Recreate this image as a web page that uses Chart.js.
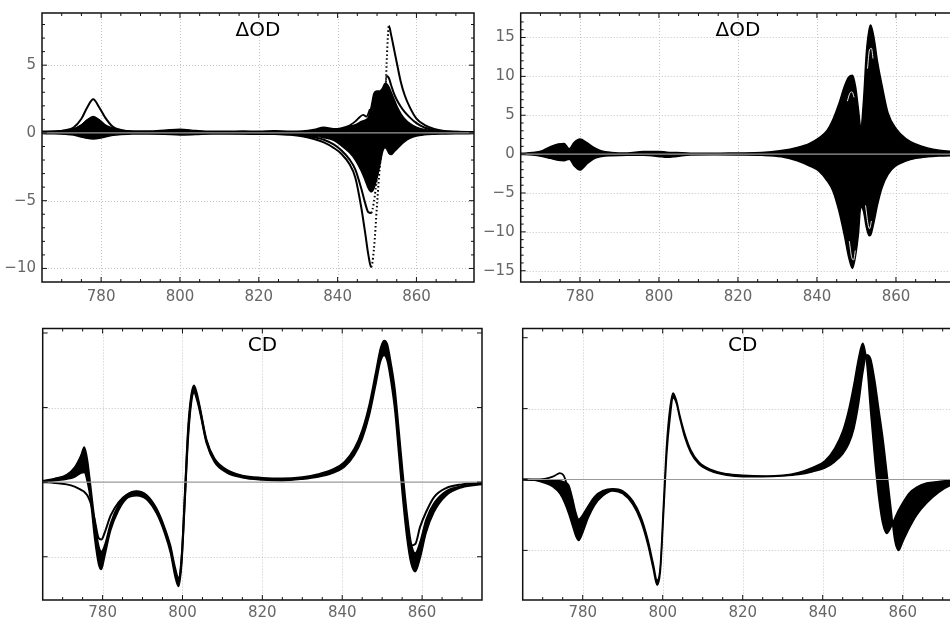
<!DOCTYPE html>
<html>
<head>
<meta charset="utf-8">
<title>ΔOD / CD</title>
<script src="https://cdn.jsdelivr.net/npm/chart.js@4.4.1/dist/chart.umd.min.js"></script>
<style>
  html, body { margin: 0; padding: 0; background: #fff; width: 950px; height: 619px; overflow: hidden; position: relative; }
  canvas { position: absolute; }
</style>
</head>
<body>
<canvas id="odLeft" width="480" height="305" style="left:0;top:0"></canvas>
<canvas id="odRight" width="490" height="305" style="left:480px;top:0"></canvas>
<canvas id="cdLeft" width="490" height="314" style="left:0;top:305px"></canvas>
<canvas id="cdRight" width="490" height="314" style="left:490px;top:305px"></canvas>
<script>
// wavelength ticks (nm), shared by all four panels
const xTicks = [780, 800, 820, 840, 860];

// ---- ΔOD, left panel ----
const odL_yTicks = [-10, -5, 0, 5];
const odL_x = [765, 768, 771, 773, 775, 776.5, 778, 779.5, 781, 783, 785, 788, 792, 796, 800, 804, 808, 812, 816, 820,
  824, 828, 831, 834, 836.5, 839, 841, 843, 844.5, 846, 847, 847.8, 848.5, 849.2, 850, 850.7, 851.4, 852, 852.5, 853,
  853.6, 854.3, 855, 856, 857, 858.3, 860, 862, 864.5, 867, 870, 874.6];
// envelope of the bundle of traces
const odL_top = [0.12, 0.14, 0.2, 0.3, 0.6, 0.95, 1.15, 0.95, 0.6, 0.35, 0.2, 0.14, 0.14, 0.2, 0.28, 0.18, 0.12, 0.12, 0.14, 0.12,
  0.16, 0.12, 0.14, 0.25, 0.42, 0.3, 0.3, 0.5, 0.6, 0.85, 0.95, 1.15, 1.9, 2.9, 3.1, 3.1, 3.3, 3.65, 3.6, 3.4,
  3.0, 2.5, 2.0, 1.45, 1.05, 0.7, 0.42, 0.25, 0.15, 0.12, 0.1, 0.08];
const odL_bottom = [-0.05, -0.06, -0.1, -0.15, -0.3, -0.4, -0.44, -0.4, -0.3, -0.18, -0.12, -0.08, -0.08, -0.1, -0.15, -0.12, -0.08, -0.08, -0.08, -0.1,
  -0.1, -0.1, -0.15, -0.25, -0.35, -0.55, -0.95, -1.45, -2.0, -2.8, -3.5, -4.1, -4.35, -4.1, -3.3, -2.4, -1.4, -1.1, -1.2, -1.5,
  -1.6, -1.4, -1.2, -0.9, -0.65, -0.4, -0.22, -0.14, -0.1, -0.08, -0.06, -0.05];
// the two traces that stand out of the bundle
const odL_outer = [0.05, 0.07, 0.2, 0.4, 1.05, 1.9, 2.48, 1.9, 1.15, 0.45, 0.22, 0.08, 0.04, 0.03, 0.02, 0.01, 0, -0.01, -0.02, -0.04,
  -0.07, -0.14, -0.25, -0.45, -0.7, -1.1, -1.55, -2.3, -3.3, -5.5, -7.4, -9.0, -9.9, -8.6, -5.3, -2.5, -0.7, 1.7, 5.6, 7.9,
  7.2, 6.2, 5.2, 3.8, 2.8, 1.9, 1.05, 0.6, 0.3, 0.15, 0.08, 0.04];
const odL_second = [0.04, 0.06, 0.12, 0.25, 0.55, 0.95, 1.2, 0.95, 0.55, 0.25, 0.12, 0.05, 0.03, 0.02, 0.02, 0.01, 0, -0.01, -0.02, -0.03,
  -0.05, -0.1, -0.18, -0.32, -0.5, -0.85, -1.3, -1.95, -2.7, -4.1, -5.2, -5.85, -5.9, -5.1, -3.3, -1.5, 0.3, 3.0, 4.2, 4.05,
  3.5, 2.9, 2.45, 1.95, 1.55, 1.15, 0.72, 0.4, 0.2, 0.1, 0.05, 0.03];
const odL_bumpX = [839, 841, 843, 844.5, 845.7, 846.5, 847.3, 848.2];
const odL_bumpY = [0.25, 0.35, 0.55, 0.85, 1.2, 1.33, 1.2, 1.75];

// ---- ΔOD, right panel ----
const odR_yTicks = [-15, -10, -5, 0, 5, 10, 15];
const odR_x = [765, 768, 770.5, 772.5, 774.5, 776, 777.3, 778.5, 780, 781.7, 783.5, 785.5, 788, 792, 796, 800, 802, 804.5, 808, 814,
  820, 826, 831, 835, 838, 840.5, 842.5, 844, 845.5, 847, 848, 849, 849.8, 850.5, 851.1, 851.8, 852.5, 853.2, 853.6, 854.5,
  855.3, 856.5, 858, 860, 862.5, 865, 868, 871, 875];
const odR_top = [0.1, 0.2, 0.45, 0.95, 1.3, 1.35, 0.7, 1.5, 1.95, 1.5, 0.85, 0.4, 0.22, 0.15, 0.35, 0.35, 0.25, 0.2, 0.12, 0.1,
  0.15, 0.2, 0.45, 0.85, 1.35, 2.1, 3.0, 4.4, 6.4, 8.8, 9.9, 10.15, 8.6, 5.8, 3.4, 7.0, 13.0, 16.0, 16.6, 14.8,
  12.0, 8.8, 5.3, 3.3, 2.0, 1.3, 0.8, 0.5, 0.3];
const odR_bottom = [-0.05, -0.1, -0.3, -0.55, -0.8, -0.85, -0.65, -1.5, -2.05, -1.3, -0.6, -0.3, -0.2, -0.15, -0.15, -0.3, -0.42, -0.3, -0.1, -0.08,
  -0.1, -0.15, -0.35, -0.85, -1.5, -2.2, -3.4, -4.7, -7.2, -10.6, -13.2, -14.7, -13.0, -10.3, -6.8, -7.4, -9.4, -10.5, -10.4, -8.6,
  -6.6, -4.3, -2.6, -1.5, -0.9, -0.55, -0.35, -0.25, -0.18];
// thin white gaps left between traces inside the lobes
const odR_gap1X = [847.7, 848.3, 848.9, 849.4];
const odR_gap1Y = [6.8, 7.8, 8.0, 7.3];
const odR_gap2X = [852.8, 853.3, 853.8, 854.2];
const odR_gap2Y = [11.0, 13.4, 13.6, 12.3];
const odR_gap3X = [848.2, 848.8, 849.3, 849.7];
const odR_gap3Y = [-11.2, -13.3, -13.6, -12.4];
const odR_gap4X = [852.3, 852.9, 853.3, 853.8];
const odR_gap4Y = [-6.6, -8.9, -9.6, -8.6];

// ---- CD, left panel (arbitrary units, grid at ±1) ----
const cd_yGrid = [-1, 1];
const cdL_x = [765, 768, 771, 773, 774.5, 775.4, 776.2, 777, 778, 779, 779.7, 780.5, 782, 784, 786, 788.5, 791, 793.5, 795.5, 797,
  798.2, 799, 799.8, 800.6, 801.4, 802.2, 802.9, 803.6, 804.5, 806, 808, 811, 815, 820, 825, 830, 834, 837.5, 840.5, 843,
  845, 846.8, 848.3, 849.6, 850.5, 851.3, 852.2, 853.2, 854.2, 855.2, 856.2, 857.2, 858.3, 859.5, 861, 863, 866, 870, 875];
const cdL_top = [0.02, 0.05, 0.1, 0.2, 0.35, 0.47, 0.3, -0.05, -0.5, -0.85, -0.93, -0.85, -0.55, -0.3, -0.17, -0.12, -0.17, -0.35, -0.6, -0.85,
  -1.15, -1.28, -0.95, -0.1, 0.75, 1.18, 1.3, 1.2, 0.98, 0.58, 0.32, 0.17, 0.09, 0.06, 0.05, 0.07, 0.11, 0.17, 0.27, 0.45,
  0.7, 1.05, 1.45, 1.8, 1.9, 1.85, 1.6, 1.25, 0.7, 0.12, -0.4, -0.8, -0.95, -0.8, -0.5, -0.28, -0.12, -0.05, -0.02];
const cdL_bottom = [0.0, 0.02, 0.04, 0.07, 0.12, 0.13, 0.0, -0.25, -0.75, -1.1, -1.17, -1.0, -0.65, -0.38, -0.22, -0.18, -0.23, -0.42, -0.68, -0.95,
  -1.28, -1.4, -1.1, -0.3, 0.55, 1.05, 1.2, 1.1, 0.9, 0.52, 0.27, 0.13, 0.06, 0.03, 0.02, 0.04, 0.07, 0.12, 0.2, 0.36,
  0.58, 0.9, 1.28, 1.62, 1.7, 1.62, 1.35, 0.95, 0.35, -0.25, -0.75, -1.08, -1.2, -1.02, -0.68, -0.4, -0.18, -0.07, -0.03];
const cdL_single = [0.0, -0.01, -0.03, -0.06, -0.1, -0.13, -0.18, -0.28, -0.5, -0.75, -0.77, -0.68, -0.45, -0.27, -0.17, -0.13, -0.2, -0.38, -0.64, -0.9,
  -1.22, -1.34, -1.02, -0.2, 0.65, 1.12, 1.25, 1.15, 0.94, 0.55, 0.3, 0.15, 0.075, 0.045, 0.035, 0.055, 0.09, 0.145, 0.235, 0.4,
  0.64, 0.98, 1.37, 1.71, 1.8, 1.74, 1.48, 1.1, 0.52, -0.05, -0.5, -0.85, -0.83, -0.6, -0.4, -0.2, -0.08, -0.03, -0.01];

// ---- CD, right panel ----
const cdR_x = [765, 768, 770.5, 772.5, 774.3, 775.5, 776.5, 777.5, 778.3, 779, 780, 781.3, 783, 785, 787.5, 790, 792.5, 794.5, 796.3, 797.6,
  798.6, 799.4, 800.2, 801, 801.8, 802.6, 803.4, 804.3, 805.5, 807, 809, 812, 816, 820, 825, 830, 834, 837.5, 840.5, 843,
  845, 846.5, 847.8, 849, 850, 851, 852, 853, 854, 855, 856, 857, 858, 859, 860, 861.5, 863.5, 866, 869, 872, 875];
// earliest and latest traces of the bundle
const cdR_early = [0.0, -0.01, -0.01, -0.02, -0.02, -0.04, -0.08, -0.28, -0.47, -0.56, -0.5, -0.38, -0.24, -0.16, -0.13, -0.16, -0.3, -0.52, -0.85, -1.18,
  -1.42, -1.22, -0.35, 0.5, 1.0, 1.22, 1.12, 0.9, 0.65, 0.42, 0.25, 0.14, 0.08, 0.06, 0.05, 0.06, 0.1, 0.17, 0.26, 0.44,
  0.68, 0.98, 1.34, 1.72, 1.92, 1.65, 0.95, 0.3, -0.25, -0.62, -0.76, -0.68, -0.55, -0.43, -0.33, -0.2, -0.11, -0.05, -0.03, -0.01, 0.0];
const cdR_late = [0.0, -0.01, -0.05, -0.1, -0.2, -0.33, -0.48, -0.66, -0.8, -0.86, -0.75, -0.55, -0.36, -0.23, -0.16, -0.2, -0.35, -0.58, -0.92, -1.25,
  -1.49, -1.3, -0.5, 0.35, 0.85, 1.15, 1.08, 0.86, 0.6, 0.38, 0.22, 0.12, 0.06, 0.04, 0.04, 0.05, 0.07, 0.11, 0.16, 0.25,
  0.36, 0.5, 0.72, 1.08, 1.5, 1.76, 1.7, 1.4, 1.0, 0.6, 0.12, -0.38, -0.85, -1.0, -0.88, -0.7, -0.5, -0.33, -0.18, -0.08, -0.04];
const cdR_bumpX = [765, 768, 770.5, 772.5, 773.5, 774.3, 775.2, 776, 776.8, 777.5];
const cdR_bumpY = [0, 0, 0.01, 0.04, 0.07, 0.09, 0.06, -0.06, -0.2, -0.3];

const panels = {};
const tickFont = { family: '"DejaVu Sans", sans-serif', size: 15 };

function pts(xs, ys) {
  return xs.map((x, i) => ({ x: x, y: ys[i] }));
}

function fmt(v) {
  return v < 0 ? '\u2212' + Math.abs(v) : String(v);
}

function dotted(from, to) {
  return ctx => (ctx.p0.parsed.x >= from && ctx.p1.parsed.x <= to) ? [1.5, 2.5] : undefined;
}

// grid, zero line, frame with inner ticks and the title inside the plot
const framePlugin = {
  id: 'frame',
  beforeDatasetsDraw(chart) {
    const p = panels[chart.canvas.id];
    const { ctx, chartArea: a, scales: { x, y } } = chart;
    ctx.save();
    ctx.strokeStyle = '#c4c4c4';
    ctx.lineWidth = 1;
    ctx.setLineDash([1, 2]);
    ctx.beginPath();
    xTicks.forEach(v => {
      const px = Math.round(x.getPixelForValue(v)) + 0.5;
      ctx.moveTo(px, a.top);
      ctx.lineTo(px, a.bottom);
    });
    p.yGrid.forEach(v => {
      const py = Math.round(y.getPixelForValue(v)) + 0.5;
      ctx.moveTo(a.left, py);
      ctx.lineTo(a.right, py);
    });
    ctx.stroke();
    ctx.restore();
  },
  afterDatasetsDraw(chart) {
    const p = panels[chart.canvas.id];
    const { ctx, chartArea: a, scales: { x, y } } = chart;
    ctx.save();
    const y0 = y.getPixelForValue(0);
    ctx.strokeStyle = '#9a9a9a';
    ctx.lineWidth = 1.2;
    ctx.beginPath();
    ctx.moveTo(a.left, y0);
    ctx.lineTo(a.right, y0);
    ctx.stroke();

    ctx.strokeStyle = '#111';
    ctx.lineWidth = 1.5;
    ctx.strokeRect(a.left, a.top, a.right - a.left, a.bottom - a.top);

    ctx.lineWidth = 1;
    ctx.beginPath();
    for (let v = 765; v <= 875; v += 5) {
      const px = x.getPixelForValue(v);
      if (px < a.left + 3 || px > a.right - 3) continue;
      const len = v % 20 === 0 ? 5 : 3;
      ctx.moveTo(px, a.bottom); ctx.lineTo(px, a.bottom - len);
      ctx.moveTo(px, a.top); ctx.lineTo(px, a.top + len);
    }
    for (let v = Math.ceil(y.min); v <= y.max; v += 1) {
      const py = y.getPixelForValue(v);
      if (py < a.top + 4 || py > a.bottom - 4) continue;
      const len = v % p.yMajor === 0 ? 5 : 3;
      ctx.moveTo(a.left, py); ctx.lineTo(a.left + len, py);
      ctx.moveTo(a.right, py); ctx.lineTo(a.right - len, py);
    }
    ctx.stroke();

    ctx.fillStyle = '#000';
    ctx.font = '20px "DejaVu Sans", sans-serif';
    ctx.textAlign = 'center';
    ctx.textBaseline = 'alphabetic';
    ctx.fillText(p.title, (a.left + a.right) / 2, a.top + 22.5);
    ctx.restore();
  }
};
Chart.register(framePlugin);

function makePanel(id, cfg) {
  panels[id] = cfg;
  const noPad = s => { s.paddingTop = 0; s.paddingBottom = 0; s.paddingLeft = 0; s.paddingRight = 0; };
  new Chart(document.getElementById(id), {
    type: 'line',
    data: { datasets: cfg.datasets },
    options: {
      responsive: false,
      animation: false,
      devicePixelRatio: 1,
      layout: { padding: { left: 0, top: cfg.top, right: cfg.right, bottom: 0 } },
      plugins: { legend: { display: false }, tooltip: { enabled: false } },
      elements: {
        point: { radius: 0 },
        line: { cubicInterpolationMode: 'monotone', borderColor: '#000', backgroundColor: '#000' }
      },
      scales: {
        x: {
          type: 'linear', bounds: 'data', min: cfg.xMin, max: cfg.xMax,
          grid: { display: false, drawTicks: false }, border: { display: false },
          afterBuildTicks: s => { s.ticks = xTicks.map(v => ({ value: v })); },
          afterFit: s => { s.height = cfg.axisH; noPad(s); },
          ticks: { color: '#666', font: tickFont, padding: cfg.labelPad, maxRotation: 0, autoSkip: false, callback: fmt }
        },
        y: {
          type: 'linear', bounds: 'data', min: cfg.yMin, max: cfg.yMax,
          grid: { display: false, drawTicks: false }, border: { display: false },
          afterBuildTicks: s => { s.ticks = cfg.yLabels.map(v => ({ value: v })); },
          afterFit: s => { s.width = cfg.axisW; noPad(s); },
          ticks: { display: cfg.yLabels.length > 0, color: '#666', font: tickFont, padding: 6, autoSkip: false, callback: fmt }
        }
      }
    }
  });
}

makePanel('odLeft', {
  title: '\u0394OD', xMin: 765, xMax: 874.6, yMin: -11, yMax: 8.85,
  top: 13, right: 6, axisW: 42, axisH: 23, labelPad: 6,
  yLabels: odL_yTicks, yGrid: odL_yTicks.filter(v => v !== 0), yMajor: 5,
  datasets: [
    { data: pts(odL_bumpX, odL_bumpY), borderWidth: 1.8 },
    { data: pts(odL_x, odL_outer), borderWidth: 2, segment: { borderDash: dotted(848.4, 853.05) } },
    { data: pts(odL_x, odL_second), borderWidth: 2, segment: { borderDash: dotted(848.4, 852.55) } },
    { data: pts(odL_x, odL_top), borderWidth: 1.5, fill: '+1' },
    { data: pts(odL_x, odL_bottom), borderWidth: 1.5 }
  ]
});

makePanel('odRight', {
  title: '\u0394OD', xMin: 765, xMax: 875, yMin: -16.45, yMax: 18.15,
  top: 13, right: 14.8, axisW: 40.7, axisH: 23, labelPad: 6,
  yLabels: odR_yTicks, yGrid: odR_yTicks.filter(v => v !== 0), yMajor: 5,
  datasets: [
    { data: pts(odR_gap1X, odR_gap1Y), borderColor: '#fff', borderWidth: 0.9 },
    { data: pts(odR_gap2X, odR_gap2Y), borderColor: '#fff', borderWidth: 0.9 },
    { data: pts(odR_gap3X, odR_gap3Y), borderColor: '#fff', borderWidth: 0.9 },
    { data: pts(odR_gap4X, odR_gap4Y), borderColor: '#fff', borderWidth: 0.9 },
    { data: pts(odR_x, odR_top), borderWidth: 1.5, fill: '+1' },
    { data: pts(odR_x, odR_bottom), borderWidth: 1.5 }
  ]
});

makePanel('cdLeft', {
  title: 'CD', xMin: 765, xMax: 875, yMin: -1.58, yMax: 2.06,
  top: 23.5, right: 8, axisW: 42.7, axisH: 19, labelPad: 4,
  yLabels: [], yGrid: cd_yGrid, yMajor: 1,
  datasets: [
    { data: pts(cdL_x, cdL_single), borderWidth: 2 },
    { data: pts(cdL_x, cdL_top), borderWidth: 1.6, fill: '+1' },
    { data: pts(cdL_x, cdL_bottom), borderWidth: 1.6 }
  ]
});

makePanel('cdRight', {
  title: 'CD', xMin: 765, xMax: 875, yMin: -1.70, yMax: 2.13,
  top: 23.5, right: 17.3, axisW: 32.7, axisH: 19, labelPad: 4,
  yLabels: [], yGrid: cd_yGrid, yMajor: 1,
  datasets: [
    { data: pts(cdR_bumpX, cdR_bumpY), borderWidth: 1.8 },
    { data: pts(cdR_x, cdR_early), borderWidth: 1.6, fill: '+1' },
    { data: pts(cdR_x, cdR_late), borderWidth: 1.6 }
  ]
});
</script>
</body>
</html>
